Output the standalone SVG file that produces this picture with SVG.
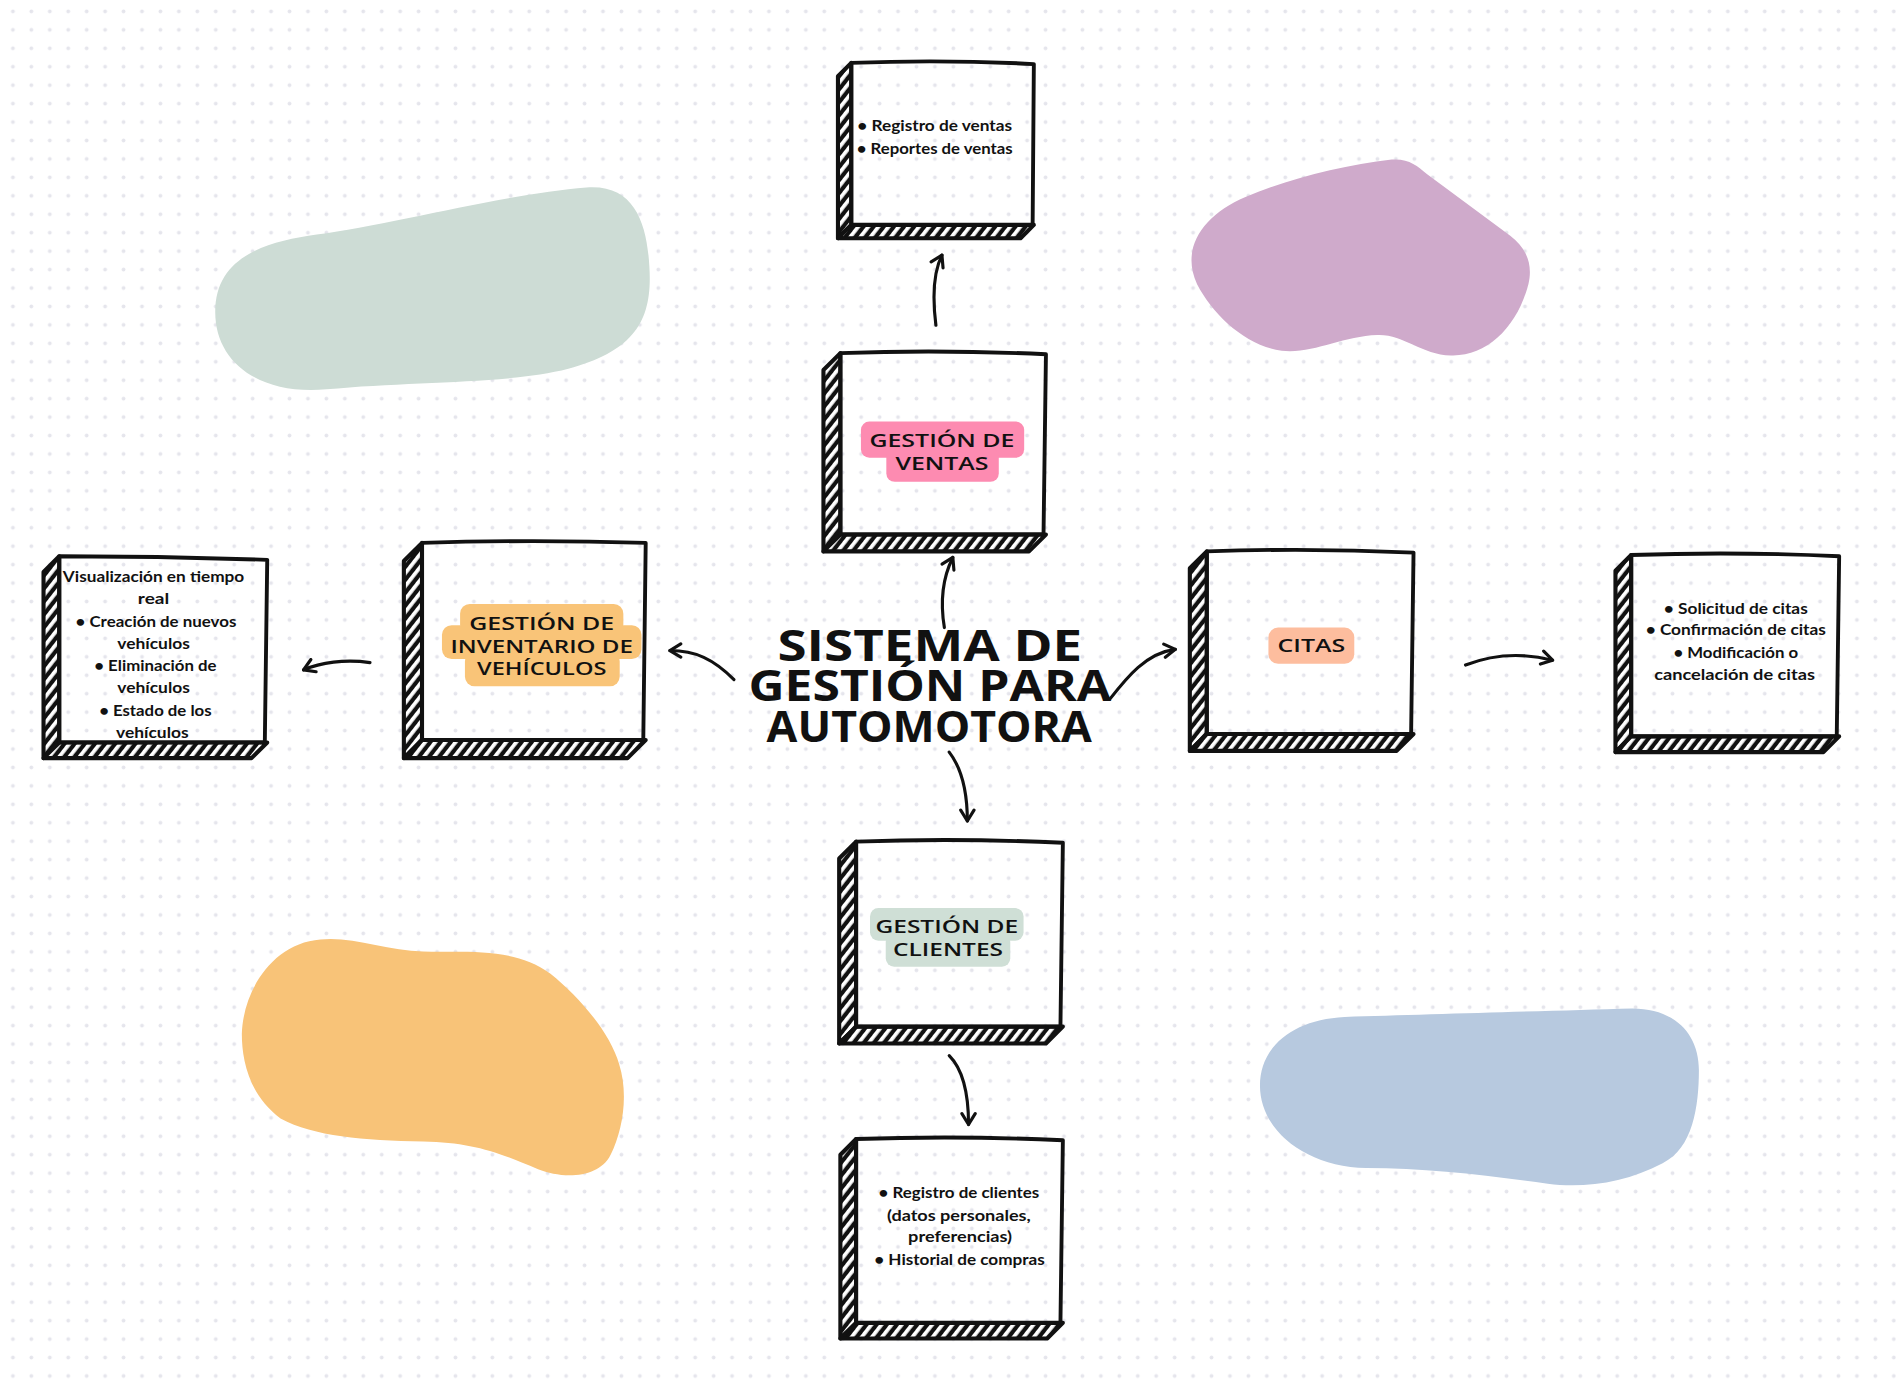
<svg xmlns="http://www.w3.org/2000/svg" width="1896" height="1392" viewBox="0 0 1896 1392">
  <defs>
    <pattern id="dots" x="3.7" y="2.2" width="18.44" height="18.44" patternUnits="userSpaceOnUse">
      <circle cx="9.22" cy="9.22" r="1.9" fill="#e5e5ec"/>
    </pattern>
    <pattern id="hatch" width="6.6" height="6.6" patternUnits="userSpaceOnUse" patternTransform="rotate(38)">
      <rect width="6.6" height="6.6" fill="#111"/>
      <rect x="0" y="0" width="3.1" height="6.6" fill="#fff"/>
    </pattern>
    <marker id="ah" viewBox="-11 -7 13 14" refX="0" refY="0" markerWidth="13" markerHeight="14" markerUnits="userSpaceOnUse" orient="auto">
      <path d="M-9 -5.5 L0 0 L-9 5.5" fill="none" stroke="#111" stroke-width="2.6" stroke-linecap="round" stroke-linejoin="round"/>
    </marker>
    <style>
      .strip { fill: url(#hatch); stroke: #111; stroke-width: 3.4; stroke-linejoin: round; }
      .face { fill: none; stroke: #111; stroke-width: 3.2; stroke-linejoin: round; }
      .conn { fill: none; stroke: #111; stroke-width: 2.6; stroke-linecap: round; marker-end: url(#ah); }
      .comic { font-family: "Open Sans", "Liberation Sans", sans-serif; font-weight: 600; fill: #111; text-anchor: middle; }
      .title { font-family: "Open Sans", "Liberation Sans", sans-serif; font-weight: 700; fill: #111; text-anchor: middle; font-size: 35px; }
      .body { font-family: "Lato", "Liberation Sans", sans-serif; font-weight: 700; fill: #111; text-anchor: middle; font-size: 13.2px; }
    </style>
  </defs>

  <rect width="1896" height="1392" fill="#ffffff"/>
  <rect width="1896" height="1392" fill="url(#dots)"/>

  <g transform="scale(1.20918)">
    <g id="blobs">
      <path fill="#cddcd5" d="M178 258 C178 212 220 200 262 194 C322 186 420 160 485 155 C525 152 535 185 537 220 C540 265 525 290 470 305 C420 318 340 315 270 322 C215 327 178 300 178 258 Z"/>
      <path fill="#cfaacb" d="M1151 132 C1165 131 1172 137 1180 144 L1249 195 C1262 205 1268 218 1264 235 C1255 270 1230 295 1200 294 C1175 293 1160 276 1139 277 C1110 278 1085 293 1060 290 C1030 286 1003 260 990 235 C976 205 995 178 1030 163 C1065 148 1110 137 1151 132 Z"/>
      <path fill="#f8c378" d="M265 777 C290 774 320 786 350 787 C385 788 425 783 455 805 C480 825 505 855 512 880 C520 905 515 935 505 955 C495 975 465 975 445 967 C410 952 390 945 350 944 C300 943 260 940 232 925 C205 905 200 875 200 855 C201 820 225 780 265 777 Z"/>
      <path fill="#b7c9df" d="M1042 898 C1042 865 1070 843 1112 841 C1180 839 1280 836 1350 834 C1385 834 1405 855 1405 885 C1405 915 1400 950 1375 962 C1345 978 1310 983 1280 979 C1230 972 1180 966 1130 966 C1080 965 1042 935 1042 898 Z"/>
    </g>

    <g id="connectors">
      <path class="conn" d="M781 519 C777 495 781 475 788 461"/>
      <path class="conn" d="M774 269 C771 245 772 225 779 211"/>
      <path class="conn" d="M607 562 C590 545 575 538 554 538"/>
      <path class="conn" d="M306 548 C285 545 265 548 251 554"/>
      <path class="conn" d="M918 578 C932 560 948 540 972 537"/>
      <path class="conn" d="M1212 550 C1235 541 1260 540 1284 546"/>
      <path class="conn" d="M785 622 C795 635 800 655 800 679"/>
      <path class="conn" d="M785 873 C797 885 801 905 801 930"/>
    </g>

    <g id="title">
      <text class="title"><tspan x="769" y="547" textLength="252" lengthAdjust="spacingAndGlyphs">SISTEMA DE</tspan><tspan x="769" y="580" textLength="300" lengthAdjust="spacingAndGlyphs">GESTIÓN PARA</tspan><tspan x="768.5" y="614" textLength="269" lengthAdjust="spacingAndGlyphs">AUTOMOTORA</tspan></text>
    </g>

    <g id="node-ventas-detalle">
      <path class="strip" d="M704 52 L693 63 L693 197 L704 186 Z"/>
      <path class="strip" d="M704 186 L855 186 L844 197 L693 197 Z"/>
      <path class="face" d="M704 52 Q780 49 855 53 L854 186 L704 186 Z"/>
      <text class="body" x="773" y="108.5" textLength="128" lengthAdjust="spacingAndGlyphs">• Registro de ventas</text>
      <text class="body" x="773" y="127.5" textLength="129" lengthAdjust="spacingAndGlyphs">• Reportes de ventas</text>
    </g>

    <g id="node-ventas">
      <path class="strip" d="M695 292 L681 306 L681 456 L695 442 Z"/>
      <path class="strip" d="M695 442 L865 442 L851 456 L681 456 Z"/>
      <path class="face" d="M695 292 Q780 289 865 293 L863 442 L695 442 Z"/>
      <rect x="712" y="348.5" width="135" height="30" rx="7" fill="#fd8bb1"/>
      <rect x="733" y="371" width="93" height="27.5" rx="7" fill="#fd8bb1"/>
      <text class="comic" x="779" y="370" font-size="15.5" textLength="120" lengthAdjust="spacingAndGlyphs">GESTIÓN DE</text>
      <text class="comic" x="779" y="389" font-size="15.5" textLength="77" lengthAdjust="spacingAndGlyphs">VENTAS</text>
    </g>

    <g id="node-inventario">
      <path class="strip" d="M349 449 L334 464 L334 627 L349 612 Z"/>
      <path class="strip" d="M349 612 L534 612 L519 627 L334 627 Z"/>
      <path class="face" d="M349 449 Q440 446 534 449 L532 612 L349 612 Z"/>
      <rect x="380.5" y="499.5" width="135" height="25" rx="8" fill="#f9c478"/>
      <rect x="365.5" y="517" width="165" height="28" rx="8" fill="#f9c478"/>
      <rect x="384.5" y="539" width="128" height="28.5" rx="8" fill="#f9c478"/>
      <text class="comic" x="448" y="521" font-size="15.5" textLength="120" lengthAdjust="spacingAndGlyphs">GESTIÓN DE</text>
      <text class="comic" x="448" y="540" font-size="15.5" textLength="151" lengthAdjust="spacingAndGlyphs">INVENTARIO DE</text>
      <text class="comic" x="448" y="558.5" font-size="15.5" textLength="107" lengthAdjust="spacingAndGlyphs">VEHÍCULOS</text>
    </g>

    <g id="node-inventario-detalle">
      <path class="strip" d="M49 460 L36 473 L36 627 L49 614 Z"/>
      <path class="strip" d="M49 614 L221 614 L208 627 L36 627 Z"/>
      <path class="face" d="M49 460 Q135 460 221 463 L219 614 L49 614 Z"/>
      <text class="body" x="127" y="481.5" textLength="150" lengthAdjust="spacingAndGlyphs">Visualización en tiempo</text>
      <text class="body" x="127" y="499.9" textLength="26" lengthAdjust="spacingAndGlyphs">real</text>
      <text class="body" x="129" y="518.3" textLength="133" lengthAdjust="spacingAndGlyphs">• Creación de nuevos</text>
      <text class="body" x="127" y="536.7" textLength="60" lengthAdjust="spacingAndGlyphs">vehículos</text>
      <text class="body" x="128.5" y="555.1" textLength="101" lengthAdjust="spacingAndGlyphs">• Eliminación de</text>
      <text class="body" x="127" y="573.5" textLength="60" lengthAdjust="spacingAndGlyphs">vehículos</text>
      <text class="body" x="128.5" y="591.9" textLength="93" lengthAdjust="spacingAndGlyphs">• Estado de los</text>
      <text class="body" x="126" y="610.3" textLength="60" lengthAdjust="spacingAndGlyphs">vehículos</text>
    </g>

    <g id="node-citas">
      <path class="strip" d="M998 456 L984 470 L984 621 L998 607 Z"/>
      <path class="strip" d="M998 607 L1169 607 L1155 621 L984 621 Z"/>
      <path class="face" d="M998 456 Q1083 453 1169 457 L1167 607 L998 607 Z"/>
      <rect x="1049" y="519" width="71" height="30" rx="8" fill="#fdbd9e"/>
      <text class="comic" x="1084.5" y="539.5" font-size="15.5" textLength="56" lengthAdjust="spacingAndGlyphs">CITAS</text>
    </g>

    <g id="node-citas-detalle">
      <path class="strip" d="M1349 459 L1336 472 L1336 622 L1349 609 Z"/>
      <path class="strip" d="M1349 609 L1521 609 L1508 622 L1336 622 Z"/>
      <path class="face" d="M1349 459 Q1435 456 1521 460 L1519 609 L1349 609 Z"/>
      <text class="body" x="1435.5" y="507.5" textLength="119" lengthAdjust="spacingAndGlyphs">• Solicitud de citas</text>
      <text class="body" x="1435.5" y="525.5" textLength="149" lengthAdjust="spacingAndGlyphs">• Confirmación de citas</text>
      <text class="body" x="1435.5" y="544.5" textLength="103" lengthAdjust="spacingAndGlyphs">• Modificación o</text>
      <text class="body" x="1434.5" y="562.5" textLength="133" lengthAdjust="spacingAndGlyphs">cancelación de citas</text>
    </g>

    <g id="node-clientes">
      <path class="strip" d="M708 696 L694 710 L694 863 L708 849 Z"/>
      <path class="strip" d="M708 849 L879 849 L865 863 L694 863 Z"/>
      <path class="face" d="M708 696 Q793 693 879 697 L877 849 L708 849 Z"/>
      <rect x="719.5" y="751" width="127" height="27" rx="7" fill="#cfdfd6"/>
      <rect x="732.5" y="772" width="103" height="27.5" rx="7" fill="#cfdfd6"/>
      <text class="comic" x="783" y="772" font-size="15.5" textLength="118" lengthAdjust="spacingAndGlyphs">GESTIÓN DE</text>
      <text class="comic" x="784" y="791" font-size="15.5" textLength="91" lengthAdjust="spacingAndGlyphs">CLIENTES</text>
    </g>

    <g id="node-clientes-detalle">
      <path class="strip" d="M708 942 L695 955 L695 1107 L708 1094 Z"/>
      <path class="strip" d="M708 1094 L879 1094 L866 1107 L695 1107 Z"/>
      <path class="face" d="M708 942 Q793 939 879 943 L877 1094 L708 1094 Z"/>
      <text class="body" x="793" y="990.5" textLength="133" lengthAdjust="spacingAndGlyphs">• Registro de clientes</text>
      <text class="body" x="793" y="1009.5" textLength="119" lengthAdjust="spacingAndGlyphs">(datos personales,</text>
      <text class="body" x="794" y="1027.5" textLength="86" lengthAdjust="spacingAndGlyphs">preferencias)</text>
      <text class="body" x="793.5" y="1046.5" textLength="141" lengthAdjust="spacingAndGlyphs">• Historial de compras</text>
    </g>
  </g>
</svg>
